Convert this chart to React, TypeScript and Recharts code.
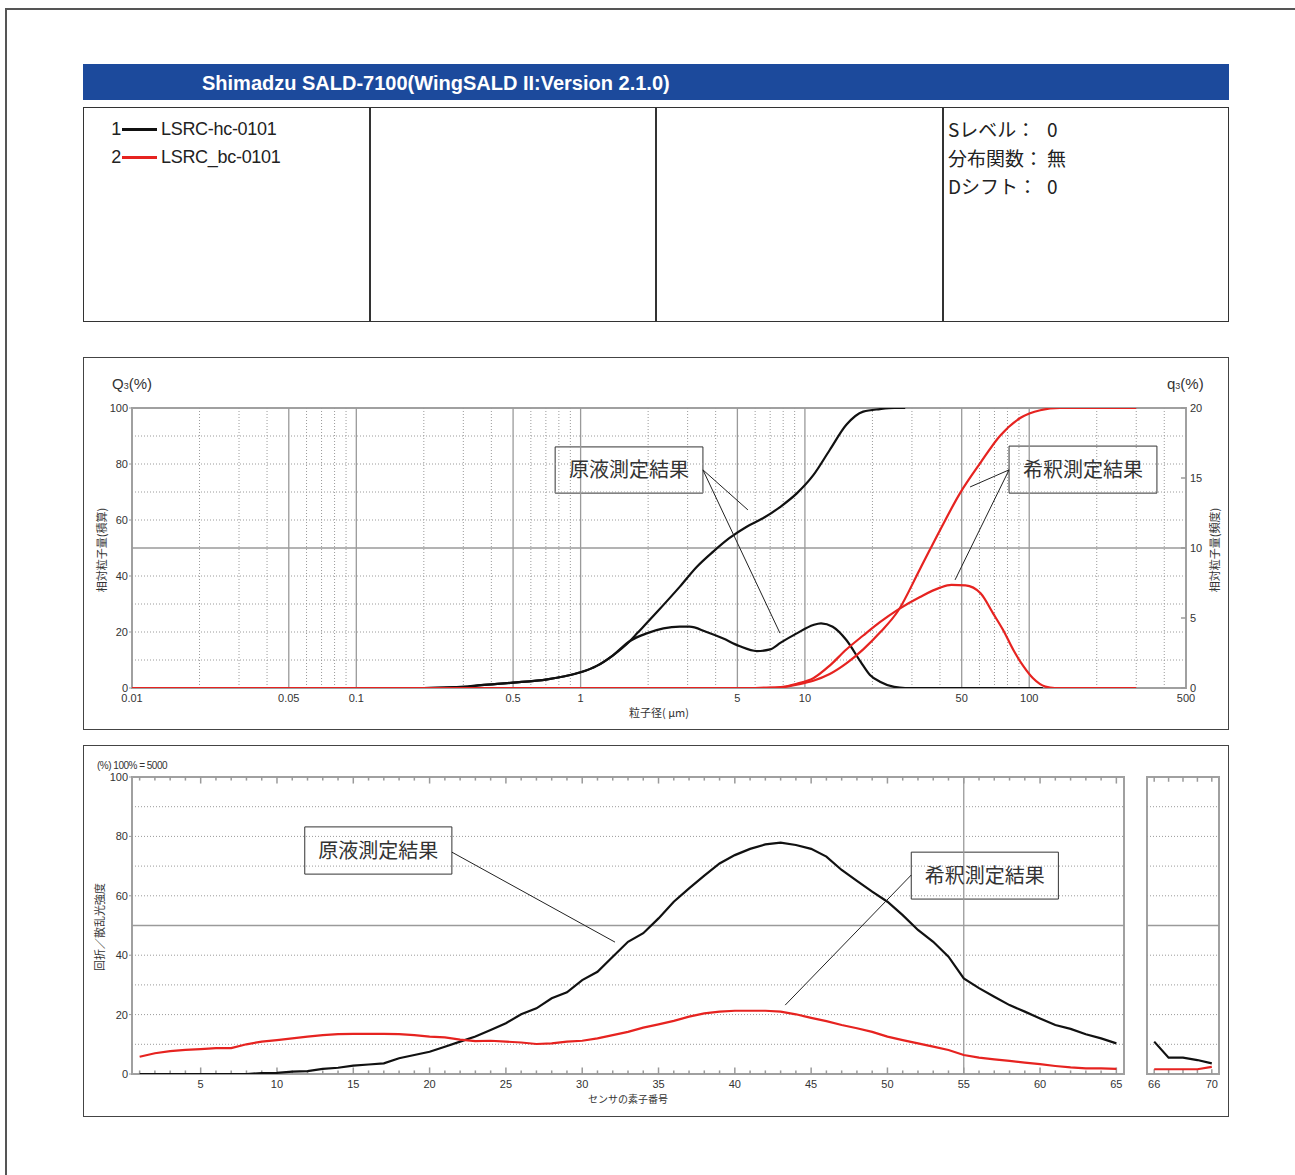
import React from 'react';
import { LineChart, Line, XAxis, YAxis, ReferenceLine, ReferenceArea } from 'recharts';

const FONT_JP = '"Noto Sans CJK JP", "Noto Sans", sans-serif';
const FONT_LAT = '"Liberation Sans", Arial, sans-serif';

// ---------- header / table ----------
const TITLE = 'Shimadzu SALD-7100(WingSALD II:Version 2.1.0)';
const SAMPLE_IDS = ['1', '2'];
const SAMPLE_NAMES = ['LSRC-hc-0101', 'LSRC_bc-0101'];
const SAMPLE_COLORS = ['#111111', '#e62320'];
const CONDITION_LABELS = ['Sレベル：', '分布関数：', 'Dシフト：'];
const CONDITION_VALUES = ['0', '無', '0'];

// ---------- chart 1 : particle size distribution ----------
const C1_X_TICKS = [0.01, 0.05, 0.1, 0.5, 1, 5, 10, 50, 100, 500];
const C1_X_MAJOR = [0.05, 0.1, 0.5, 1, 5, 10, 50, 100];
const C1_X_MINOR = [0.02, 0.03, 0.04, 0.06, 0.07, 0.08, 0.09, 0.2, 0.3, 0.4, 0.6, 0.7, 0.8, 0.9, 2, 3, 4, 6, 7, 8, 9, 20, 30, 40, 60, 70, 80, 90, 200, 300, 400];
const C1_Q_TICKS = [0, 20, 40, 60, 80, 100];
const C1_FREQ_TICKS = [0, 5, 10, 15, 20];
const C1_H_DOTTED = [10, 20, 30, 40, 60, 70, 80, 90];
const C1_H_SOLID = [50];

const BLACK_CUM_SIZE = [0.01, 0.2, 0.3, 0.36, 0.5, 0.71, 0.85, 1.0, 1.18, 1.39, 1.66, 1.79, 2.2, 2.77, 3.3, 3.9, 4.6, 5.5, 6.5, 7.8, 9.2, 10.9, 12.9, 15.3, 18.2, 21.6, 25, 28];
const BLACK_CUM_VAL = [0, 0, 0.4, 1.0, 1.9, 3.1, 4.2, 5.6, 7.9, 11.6, 16.8, 19.6, 27.3, 36.2, 43.3, 48.7, 53.5, 57.6, 60.6, 64.8, 69.5, 76, 85, 94, 98.7, 99.6, 100, 100];

const BLACK_FREQ_SIZE = [0.01, 0.2, 0.3, 0.36, 0.5, 0.71, 0.85, 1.0, 1.18, 1.39, 1.66, 1.97, 2.34, 2.77, 3.06, 3.62, 4.3, 5.1, 6.1, 7.0, 7.8, 9.2, 10.9, 11.8, 13.3, 15.3, 17.7, 19.5, 21.6, 25, 28, 40, 115];
const BLACK_FREQ_VAL = [0, 0, 0.08, 0.2, 0.38, 0.62, 0.84, 1.12, 1.58, 2.32, 3.36, 3.9, 4.26, 4.38, 4.38, 4.02, 3.55, 3.0, 2.64, 2.76, 3.24, 3.9, 4.5, 4.62, 4.38, 3.43, 1.88, 0.93, 0.45, 0.08, 0, 0, 0];

const RED_CUM_SIZE = [0.01, 6, 7, 8, 9.2, 10.9, 12.9, 15.3, 18.2, 21.6, 26, 32.6, 39.8, 49.1, 60.7, 74, 91.5, 112, 137, 300];
const RED_CUM_VAL = [0, 0, 0.05, 0.3, 1.2, 2.6, 5.0, 8.8, 13.8, 19.8, 27.5, 42.5, 56, 69.5, 80.5, 90, 96.5, 99.2, 100, 100];

const RED_FREQ_SIZE = [0.01, 6, 7, 8, 9.2, 10.9, 12.9, 15.3, 18.2, 21.6, 26, 32.6, 39.8, 45, 52, 60.7, 69, 76.5, 85, 94.5, 104, 118, 130, 300];
const RED_FREQ_VAL = [0, 0, 0.02, 0.08, 0.3, 0.7, 1.6, 2.75, 3.75, 4.7, 5.6, 6.5, 7.15, 7.36, 7.33, 6.76, 5.33, 4.14, 2.71, 1.52, 0.69, 0.1, 0, 0];

const NOTE_LABELS = ['原液測定結果', '希釈測定結果'];
// chart-1 callouts in data units (size µm, Q3 %)
const C1_BOX_X = [[0.77, 3.51], [81.3, 371]];
const C1_BOX_Y = [[69.6, 86.1], [69.6, 86.4]];
const C1_LEADER_FROM = [[3.51, 77.9], [81.3, 77.9]];
const C1_LEADER_TO = [[[5.57, 63.6], [7.74, 19.6]], [[54.5, 71.8], [46.7, 38.6]]];

// ---------- chart 2 : sensor signal ----------
const SENSOR_MAIN = [1, 2, 3, 4, 5, 6, 7, 8, 9, 10, 11, 12, 13, 14, 15, 16, 17, 18, 19, 20, 21, 22, 23, 24, 25, 26, 27, 28, 29, 30, 31, 32, 33, 34, 35, 36, 37, 38, 39, 40, 41, 42, 43, 44, 45, 46, 47, 48, 49, 50, 51, 52, 53, 54, 55, 56, 57, 58, 59, 60, 61, 62, 63, 64, 65];
const SIGNAL_BLACK_MAIN = [0, 0, 0, 0, 0, 0, 0, 0, 0.3, 0.4, 0.8, 1.0, 1.7, 2.1, 2.8, 3.2, 3.6, 5.3, 6.4, 7.5, 9.2, 10.9, 12.6, 14.8, 17.1, 20.1, 22.1, 25.5, 27.5, 31.6, 34.4, 39.5, 44.5, 47.4, 52.4, 58.0, 62.5, 66.8, 70.9, 73.7, 75.8, 77.3, 77.9, 77.1, 75.8, 73.2, 68.7, 65.0, 61.4, 58.0, 53.5, 48.5, 44.5, 39.5, 32.2, 28.9, 26.0, 23.2, 21.0, 18.7, 16.5, 15.2, 13.4, 12.0, 10.3];
const SIGNAL_RED_MAIN = [5.8, 7.0, 7.7, 8.1, 8.4, 8.7, 8.7, 10.0, 10.9, 11.4, 12.0, 12.6, 13.1, 13.4, 13.5, 13.5, 13.5, 13.4, 13.1, 12.6, 12.3, 11.6, 11.1, 11.2, 10.9, 10.6, 10.1, 10.3, 10.9, 11.2, 12.0, 13.1, 14.2, 15.6, 16.7, 17.9, 19.3, 20.4, 21.0, 21.3, 21.3, 21.3, 21.0, 20.1, 18.9, 17.8, 16.5, 15.4, 14.2, 12.6, 11.4, 10.3, 9.2, 8.1, 6.4, 5.5, 4.9, 4.4, 3.8, 3.3, 2.7, 2.2, 1.9, 1.9, 1.7];
const SENSOR_SIDE = [66, 67, 68, 69, 70];
const SIGNAL_BLACK_SIDE = [10.9, 5.5, 5.5, 4.7, 3.6];
const SIGNAL_RED_SIDE = [1.6, 1.6, 1.6, 1.6, 2.4];

const C2_X_TICKS = [5, 10, 15, 20, 25, 30, 35, 40, 45, 50, 55, 60, 65];
const C2_SIDE_TICKS = [66, 70];
const C2_Y_TICKS = [0, 20, 40, 60, 80, 100];
const C2_V_SOLID = [55];
// chart-2 callouts in data units (sensor no., %)
const C2_BOX_X = [[11.82, 21.46], [51.56, 61.2]];
const C2_BOX_Y = [[67.3, 83.2], [58.9, 74.7]];
const C2_LEADER_FROM = [[21.46, 74.7], [51.56, 67.0]];
const C2_LEADER_TO = [[32.15, 44.4], [43.3, 23.2]];

const zip = (xs: number[], ys: number[]) => xs.map((x, i) => ({ x, y: ys[i] }));

const GRID = '#9a9a9a';
const DOT = '1 2';
const tickStyle = { fontSize: 11, fill: '#333', fontFamily: FONT_LAT };

function Abs({ x, y, style, children }: any) {
  return <div style={{ position: 'absolute', left: x, top: y, whiteSpace: 'nowrap', ...style }}>{children}</div>;
}

function Chart1() {
  return (
    <div style={{ position: 'absolute', left: 83, top: 357 }}>
      <LineChart width={1146} height={373} margin={{ top: 51, right: 13, bottom: 22, left: 19 }}>
        <XAxis dataKey="x" type="number" scale="log" domain={[0.01, 500]} allowDataOverflow ticks={C1_X_TICKS}
          tickFormatter={(v: number) => String(v)} axisLine={false} tickLine={false} tickSize={3} tickMargin={3}
          tick={tickStyle} height={20} interval={0} />
        <YAxis yAxisId="L" domain={[0, 100]} ticks={C1_Q_TICKS} width={30} axisLine={false}
          tickLine={{ stroke: GRID }} tickSize={3} tickMargin={1} tick={tickStyle} allowDataOverflow />
        <YAxis yAxisId="R" orientation="right" domain={[0, 20]} ticks={C1_FREQ_TICKS} width={30} axisLine={false}
          tickLine={false} tickSize={2} tickMargin={2} tick={tickStyle} allowDataOverflow />
        {C1_X_MINOR.map((v) => (
          <ReferenceLine key={'mn' + v} yAxisId="L" x={v} stroke={GRID} strokeDasharray={DOT} strokeWidth={1} />
        ))}
        {C1_X_MAJOR.map((v) => (
          <ReferenceLine key={'mj' + v} yAxisId="L" x={v} stroke={GRID} strokeWidth={1.3} />
        ))}
        {C1_H_DOTTED.map((v) => (
          <ReferenceLine key={'hd' + v} yAxisId="L" y={v} stroke={GRID} strokeDasharray={DOT} strokeWidth={1} />
        ))}
        {C1_H_SOLID.map((v) => (
          <ReferenceLine key={'hs' + v} yAxisId="L" y={v} stroke={GRID} strokeWidth={1.3} />
        ))}
        {C1_FREQ_TICKS.map((v) => (
          <ReferenceLine key={'rt' + v} yAxisId="R" segment={[{ x: 475, y: v }, { x: 500, y: v }]} stroke={GRID} strokeWidth={1.5} />
        ))}
        <ReferenceArea yAxisId="L" x1={0.01} x2={500} y1={0} y2={100} stroke="#a0a0a0" strokeWidth={2} fill="none" fillOpacity={0} />
        <Line yAxisId="L" data={zip(BLACK_CUM_SIZE, BLACK_CUM_VAL)} dataKey="y" type="monotone" stroke={SAMPLE_COLORS[0]} strokeWidth={2.2} dot={false} isAnimationActive={false} />
        <Line yAxisId="R" data={zip(BLACK_FREQ_SIZE, BLACK_FREQ_VAL)} dataKey="y" type="monotone" stroke={SAMPLE_COLORS[0]} strokeWidth={2.2} dot={false} isAnimationActive={false} />
        <Line yAxisId="L" data={zip(RED_CUM_SIZE, RED_CUM_VAL)} dataKey="y" type="monotone" stroke={SAMPLE_COLORS[1]} strokeWidth={2.2} dot={false} isAnimationActive={false} />
        <Line yAxisId="R" data={zip(RED_FREQ_SIZE, RED_FREQ_VAL)} dataKey="y" type="monotone" stroke={SAMPLE_COLORS[1]} strokeWidth={2.2} dot={false} isAnimationActive={false} />
        {NOTE_LABELS.map((t, i) => (
          <ReferenceArea key={'box' + i} yAxisId="L" x1={C1_BOX_X[i][0]} x2={C1_BOX_X[i][1]} y1={C1_BOX_Y[i][0]} y2={C1_BOX_Y[i][1]}
            stroke="#333" strokeWidth={1} fill="#fff" fillOpacity={1}
            label={{ value: t, position: 'center', fill: '#333', fontSize: 20, fontFamily: FONT_JP }} />
        ))}
        {NOTE_LABELS.map((t, i) =>
          C1_LEADER_TO[i].map((p, j) => (
            <ReferenceLine key={'ld' + i + j} yAxisId="L" ifOverflow="visible"
              segment={[{ x: C1_LEADER_FROM[i][0], y: C1_LEADER_FROM[i][1] }, { x: p[0], y: p[1] }]}
              stroke="#222" strokeWidth={1} />
          ))
        )}
      </LineChart>
    </div>
  );
}

function Chart2Main() {
  return (
    <div style={{ position: 'absolute', left: 83, top: 745 }}>
      <LineChart width={1050} height={372} margin={{ top: 32, right: 9, bottom: 23, left: 19 }}>
        <XAxis dataKey="x" type="number" domain={[0.5, 65.5]} allowDataOverflow ticks={C2_X_TICKS} interval={0}
          axisLine={false} tickLine={false} tickSize={3} tickMargin={3} tick={tickStyle} height={20} />
        <YAxis domain={[0, 100]} ticks={C2_Y_TICKS} width={30} axisLine={false} tickLine={{ stroke: GRID }}
          tickSize={3} tickMargin={1} tick={tickStyle} allowDataOverflow />
        {C1_H_DOTTED.map((v) => (
          <ReferenceLine key={'hd' + v} y={v} stroke={GRID} strokeDasharray={DOT} strokeWidth={1} />
        ))}
        {C1_H_SOLID.map((v) => (
          <ReferenceLine key={'hs' + v} y={v} stroke={GRID} strokeWidth={1.3} />
        ))}
        {C2_V_SOLID.map((v) => (
          <ReferenceLine key={'vs' + v} x={v} stroke={GRID} strokeWidth={1.3} />
        ))}
        {SENSOR_MAIN.map((n) => (
          <ReferenceLine key={'tb' + n} segment={[{ x: n, y: 0 }, { x: n, y: n % 5 === 0 ? 2.2 : 1.2 }]} stroke={GRID} strokeWidth={1.5} />
        ))}
        {SENSOR_MAIN.map((n) => (
          <ReferenceLine key={'tt' + n} segment={[{ x: n, y: 100 }, { x: n, y: n % 5 === 0 ? 97.8 : 98.8 }]} stroke={GRID} strokeWidth={1.5} />
        ))}
        <ReferenceArea x1={0.5} x2={65.5} y1={0} y2={100} stroke="#a0a0a0" strokeWidth={2} fill="none" fillOpacity={0} />
        <Line data={zip(SENSOR_MAIN, SIGNAL_BLACK_MAIN)} dataKey="y" type="linear" stroke={SAMPLE_COLORS[0]} strokeWidth={2.2} dot={false} isAnimationActive={false} />
        <Line data={zip(SENSOR_MAIN, SIGNAL_RED_MAIN)} dataKey="y" type="linear" stroke={SAMPLE_COLORS[1]} strokeWidth={2.2} dot={false} isAnimationActive={false} />
        {NOTE_LABELS.map((t, i) => (
          <ReferenceArea key={'box' + i} x1={C2_BOX_X[i][0]} x2={C2_BOX_X[i][1]} y1={C2_BOX_Y[i][0]} y2={C2_BOX_Y[i][1]}
            stroke="#333" strokeWidth={1} fill="#fff" fillOpacity={1}
            label={{ value: t, position: 'center', fill: '#333', fontSize: 20, fontFamily: FONT_JP }} />
        ))}
        {NOTE_LABELS.map((t, i) => (
          <ReferenceLine key={'ld' + i} ifOverflow="visible"
            segment={[{ x: C2_LEADER_FROM[i][0], y: C2_LEADER_FROM[i][1] }, { x: C2_LEADER_TO[i][0], y: C2_LEADER_TO[i][1] }]}
            stroke="#222" strokeWidth={1} />
        ))}
      </LineChart>
    </div>
  );
}

function Chart2Side() {
  return (
    <div style={{ position: 'absolute', left: 1140, top: 745 }}>
      <LineChart width={89} height={372} margin={{ top: 32, right: 10, bottom: 23, left: 7 }}>
        <XAxis dataKey="x" type="number" domain={[65.5, 70.5]} allowDataOverflow ticks={C2_SIDE_TICKS} interval={0}
          axisLine={false} tickLine={false} tickSize={3} tickMargin={3} tick={tickStyle} height={20} />
        <YAxis domain={[0, 100]} hide allowDataOverflow />
        {C1_H_DOTTED.map((v) => (
          <ReferenceLine key={'hd' + v} y={v} stroke={GRID} strokeDasharray={DOT} strokeWidth={1} />
        ))}
        {C1_H_SOLID.map((v) => (
          <ReferenceLine key={'hs' + v} y={v} stroke={GRID} strokeWidth={1.3} />
        ))}
        {SENSOR_SIDE.map((n) => (
          <ReferenceLine key={'tb' + n} segment={[{ x: n, y: 0 }, { x: n, y: 1.6 }]} stroke={GRID} strokeWidth={1.5} />
        ))}
        {SENSOR_SIDE.map((n) => (
          <ReferenceLine key={'tt' + n} segment={[{ x: n, y: 100 }, { x: n, y: 98.4 }]} stroke={GRID} strokeWidth={1.5} />
        ))}
        <ReferenceArea x1={65.5} x2={70.5} y1={0} y2={100} stroke="#a0a0a0" strokeWidth={2} fill="none" fillOpacity={0} />
        <Line data={zip(SENSOR_SIDE, SIGNAL_BLACK_SIDE)} dataKey="y" type="linear" stroke={SAMPLE_COLORS[0]} strokeWidth={2.2} dot={false} isAnimationActive={false} />
        <Line data={zip(SENSOR_SIDE, SIGNAL_RED_SIDE)} dataKey="y" type="linear" stroke={SAMPLE_COLORS[1]} strokeWidth={2.2} dot={false} isAnimationActive={false} />
      </LineChart>
    </div>
  );
}

export default function App() {
  const small = { fontFamily: FONT_LAT, fontSize: 11, color: '#333', lineHeight: '12px' };
  const jpLabel = { fontFamily: FONT_JP, fontSize: 11, color: '#333', lineHeight: '12px' };
  return (
    <div style={{ position: 'absolute', left: 0, top: 0, width: 1295, height: 1175, background: '#fff', overflow: 'hidden' }}>
      {/* page frame */}
      <div style={{ position: 'absolute', left: 5, top: 8, width: 1300, height: 1200, borderTop: '2px solid #555', borderLeft: '2px solid #555' }} />

      {/* header bar */}
      <div style={{ position: 'absolute', left: 83, top: 64, width: 1146, height: 36, background: '#1c4a9c' }} />
      <Abs x={202} y={71} style={{ fontFamily: FONT_LAT, fontWeight: 700, fontSize: 20, lineHeight: '24px', color: '#fff' }}>{TITLE}</Abs>

      {/* info table */}
      <div style={{ position: 'absolute', left: 83, top: 107, width: 1146, height: 215, border: '1.5px solid #333', boxSizing: 'border-box' }} />
      {[369, 655, 942].map((x) => (
        <div key={x} style={{ position: 'absolute', left: x, top: 107, width: 1.5, height: 215, background: '#333' }} />
      ))}
      {SAMPLE_NAMES.map((name, i) => (
        <Abs key={name} x={108} y={118 + i * 28} style={{ display: 'flex', alignItems: 'center', height: 22, fontFamily: FONT_LAT, fontSize: 18, color: '#222', letterSpacing: -0.3 }}>
          <span style={{ width: 13, textAlign: 'right' }}>{SAMPLE_IDS[i]}</span>
          <span style={{ display: 'inline-block', width: 35, height: 3, background: SAMPLE_COLORS[i], margin: '0 4px 0 1px' }} />
          <span>{name}</span>
        </Abs>
      ))}
      {CONDITION_LABELS.map((l, i) => (
        <React.Fragment key={l}>
          <Abs x={948} y={117 + i * 28.5} style={{ fontFamily: FONT_JP, fontSize: 19, lineHeight: '24px', color: '#222' }}>{l}</Abs>
          <Abs x={1047} y={117 + i * 28.5} style={{ fontFamily: FONT_JP, fontSize: 19, lineHeight: '24px', color: '#222' }}>{CONDITION_VALUES[i]}</Abs>
        </React.Fragment>
      ))}

      {/* chart boxes */}
      <div style={{ position: 'absolute', left: 83, top: 357, width: 1146, height: 373, border: '1px solid #444', boxSizing: 'border-box' }} />
      <div style={{ position: 'absolute', left: 83, top: 745, width: 1146, height: 372, border: '1px solid #444', boxSizing: 'border-box' }} />

      <Chart1 />
      <Chart2Main />
      <Chart2Side />

      {/* chart 1 labels */}
      <Abs x={112} y={375} style={{ fontFamily: FONT_LAT, fontSize: 15, lineHeight: '18px', color: '#333' }}>
        Q<span style={{ fontSize: 9 }}>3</span>(%)
      </Abs>
      <Abs x={1167} y={375} style={{ fontFamily: FONT_LAT, fontSize: 15, lineHeight: '18px', color: '#333' }}>
        q<span style={{ fontSize: 9 }}>3</span>(%)
      </Abs>
      <Abs x={101} y={550} style={{ ...jpLabel, transform: 'translate(-50%, -50%) rotate(-90deg)' }}>相対粒子量(積算)</Abs>
      <Abs x={1214} y={550} style={{ ...jpLabel, transform: 'translate(-50%, -50%) rotate(-90deg)' }}>相対粒子量(頻度)</Abs>
      <Abs x={659} y={712} style={{ ...jpLabel, transform: 'translate(-50%, -50%)' }}>粒子径( μm)</Abs>

      {/* chart 2 labels */}
      <Abs x={97} y={760} style={{ ...small, fontSize: 10, letterSpacing: -0.5 }}>(%) 100% = 5000</Abs>
      <Abs x={99} y={927} style={{ ...jpLabel, transform: 'translate(-50%, -50%) rotate(-90deg)' }}>回折／散乱光強度</Abs>
      <Abs x={628} y={1099} style={{ ...jpLabel, fontSize: 10, transform: 'translate(-50%, -50%)' }}>センサの素子番号</Abs>
    </div>
  );
}
